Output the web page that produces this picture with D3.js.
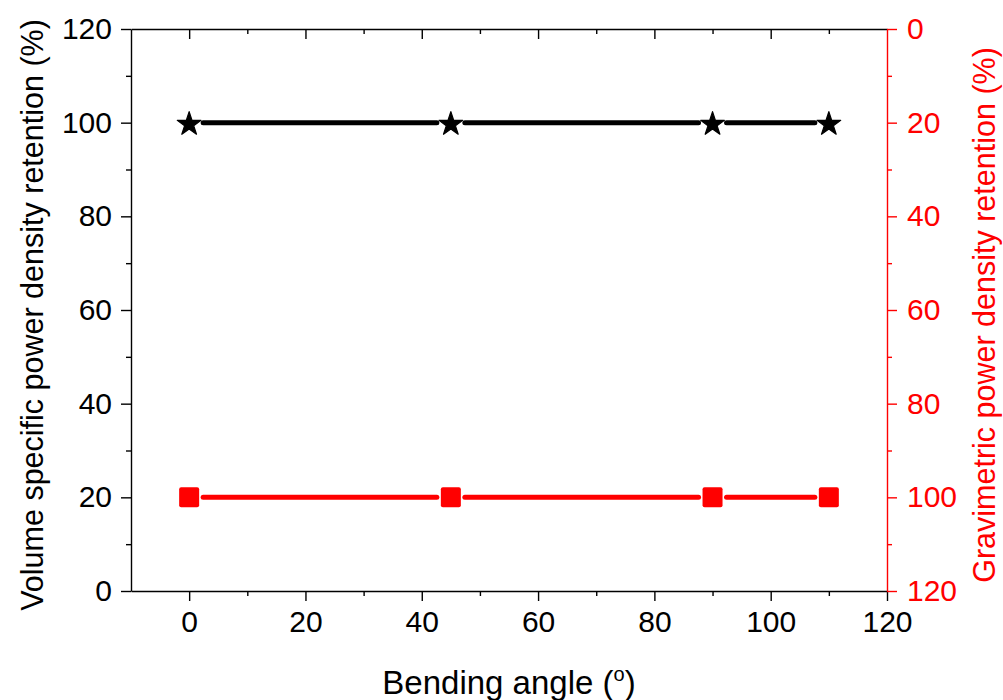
<!DOCTYPE html>
<html><head><meta charset="utf-8">
<script src="https://cdn.jsdelivr.net/npm/d3@7"></script>
<style>body{margin:0;background:#fff}svg{display:block}text{font-family:Arial,"Liberation Sans",sans-serif}</style>
</head><body>
<script>
const angles = [0, 45, 90, 110];
const volumeRetention = [100, 100, 100, 100];
const gravimetricRetention = [100, 100, 100, 100];
const xTicks = [0, 20, 40, 60, 80, 100, 120];
const yTicks = [0, 20, 40, 60, 80, 100, 120];
const xLabel = "Bending angle (";
const yLeftLabel = "Volume specific power density retention (%)";
const yRightLabel = "Gravimetric power density retention (%)";

const W = 1003, H = 700;
const m = {l: 131, r: 887, t: 29, b: 591};
const svg = d3.select("body").append("svg").attr("width", W).attr("height", H);

const x = d3.scaleLinear().domain([-10, 120]).range([m.l, m.r]);
const yL = d3.scaleLinear().domain([0, 120]).range([m.b, m.t]);
const yR = d3.scaleLinear().domain([0, 120]).range([m.t, m.b]);

const minorX = d3.range(-10, 121, 10).filter(v => v % 20 !== 0 && v > -10);
const minorY = d3.range(10, 120, 20);
const tickFont = 30;

function styleAxis(g, color) {
  g.select(".domain").attr("stroke", color).attr("stroke-width", 1.4);
  g.selectAll(".tick line").attr("stroke", color).attr("stroke-width", 1.4);
  g.selectAll(".tick text").attr("fill", color).attr("font-size", tickFont)
    .attr("font-family", "Arial, 'Liberation Sans', sans-serif");
}

// bottom axis
const gB = svg.append("g").attr("transform", `translate(0,${m.b})`)
  .call(d3.axisBottom(x).tickValues(xTicks).tickSize(10).tickPadding(10).tickSizeOuter(0));
styleAxis(gB, "#000");
gB.selectAll(".tick text").attr("dy", "0.71em");
svg.append("g").attr("transform", `translate(0,${m.b})`)
  .call(d3.axisBottom(x).tickValues(minorX).tickSize(5).tickFormat("").tickSizeOuter(0))
  .call(g => { g.select(".domain").remove(); g.selectAll("line").attr("stroke", "#000").attr("stroke-width", 1.4); });

// top axis (ticks pointing inward)
const gT = svg.append("g").attr("transform", `translate(0,${m.t})`)
  .call(d3.axisTop(x).tickValues(xTicks.filter(v => v < 120)).tickSize(-10).tickFormat("").tickSizeOuter(0));
styleAxis(gT, "#000");
svg.append("g").attr("transform", `translate(0,${m.t})`)
  .call(d3.axisTop(x).tickValues(minorX).tickSize(-5).tickFormat("").tickSizeOuter(0))
  .call(g => { g.select(".domain").remove(); g.selectAll("line").attr("stroke", "#000").attr("stroke-width", 1.4); });

// left axis
const gL = svg.append("g").attr("transform", `translate(${m.l},0)`)
  .call(d3.axisLeft(yL).tickValues(yTicks).tickSize(10).tickPadding(9).tickSizeOuter(0));
styleAxis(gL, "#000");
svg.append("g").attr("transform", `translate(${m.l},0)`)
  .call(d3.axisLeft(yL).tickValues(minorY).tickSize(5).tickFormat("").tickSizeOuter(0))
  .call(g => { g.select(".domain").remove(); g.selectAll("line").attr("stroke", "#000").attr("stroke-width", 1.4); });

// right axis (red, reversed)
const red = "#ff0000";
const gR = svg.append("g").attr("transform", `translate(${m.r},0)`)
  .call(d3.axisRight(yR).tickValues(yTicks).tickSize(10).tickPadding(10).tickSizeOuter(0));
styleAxis(gR, red);
svg.append("g").attr("transform", `translate(${m.r},0)`)
  .call(d3.axisRight(yR).tickValues(minorY).tickSize(5).tickFormat("").tickSizeOuter(0))
  .call(g => { g.select(".domain").remove(); g.selectAll("line").attr("stroke", red).attr("stroke-width", 1.4); });

// series lines with gaps to symbols
function drawSeries(vals, ys, color, gap) {
  const pts = angles.map((a, i) => [x(a), ys(vals[i])]);
  for (let i = 0; i < pts.length - 1; i++) {
    const [x1, y1] = pts[i], [x2, y2] = pts[i + 1];
    const dx = x2 - x1, dy = y2 - y1, L = Math.hypot(dx, dy);
    const ux = dx / L, uy = dy / L;
    svg.append("line")
      .attr("x1", x1 + ux * gap).attr("y1", y1 + uy * gap)
      .attr("x2", x2 - ux * gap).attr("y2", y2 - uy * gap)
      .attr("stroke", color).attr("stroke-width", 5).attr("stroke-linecap", "round");
  }
  return pts;
}
const ptsB = drawSeries(volumeRetention, yL, "#000", 14);
const ptsR = drawSeries(gravimetricRetention, yR, red, 14);

svg.selectAll(".star").data(ptsB).enter().append("path")
  .attr("d", d3.symbol().type(d3.symbolStar).size(175))
  .attr("transform", d => `translate(${d[0]},${d[1] + 1.5})`)
  .attr("fill", "#000").attr("stroke", "#000").attr("stroke-width", 1.2).attr("stroke-linejoin", "round");

svg.selectAll(".sq").data(ptsR).enter().append("rect")
  .attr("x", d => d[0] - 10).attr("y", d => d[1] - 10)
  .attr("width", 20).attr("height", 20).attr("rx", 2)
  .attr("fill", red);

// axis titles
const xt = svg.append("text").attr("x", (m.l + m.r) / 2).attr("y", 694)
  .attr("text-anchor", "middle").attr("font-size", 33).attr("fill", "#000");
xt.append("tspan").text(xLabel);
xt.append("tspan").attr("font-size", 20).attr("dy", -13).text("o");
xt.append("tspan").attr("dy", 13).text(")");

svg.append("text").attr("transform", `translate(43,${(m.t + m.b) / 2 + 5}) rotate(-90)`)
  .attr("text-anchor", "middle").attr("font-size", 30.5).attr("fill", "#000").text(yLeftLabel);

svg.append("text").attr("transform", `translate(995,${(m.t + m.b) / 2 + 5}) rotate(-90)`)
  .attr("text-anchor", "middle").attr("font-size", 30.5).attr("fill", red).text(yRightLabel);
</script>
</body></html>
